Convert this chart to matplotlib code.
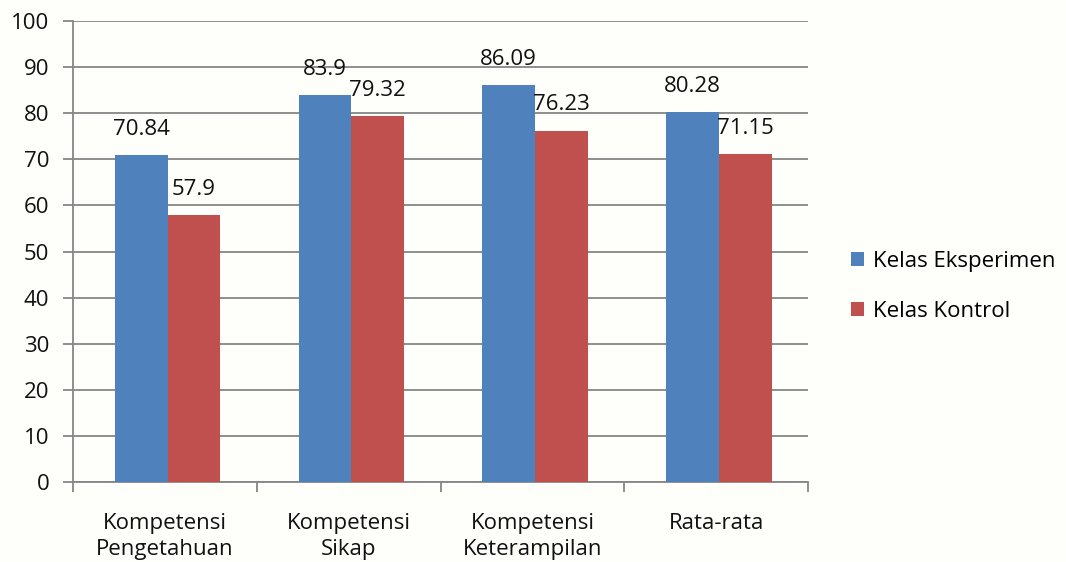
import numpy as np
import matplotlib
matplotlib.use("Agg")
import matplotlib.pyplot as plt

plt.rcParams['font.family'] = ['Open Sans', 'DejaVu Sans']

# data
kategori = ['Kompetensi\nPengetahuan', 'Kompetensi\nSikap', 'Kompetensi\nKeterampilan', 'Rata-rata']
eksperimen = [70.84, 83.9, 86.09, 80.28]
kontrol = [57.9, 79.32, 76.23, 71.15]
label_eks = ['70.84', '83.9', '86.09', '80.28']
label_kon = ['57.9', '79.32', '76.23', '71.15']

biru = '#4F81BD'
merah = '#C0504D'
abu = '#868686'
fs = 16

fig = plt.figure(figsize=(10.66, 5.62), dpi=100)
fig.patch.set_facecolor('#fefefb')
ax = fig.add_axes([0.0685, 0.1423, 0.6895, 0.8203])
ax.set_facecolor('none')

x = np.arange(len(kategori))
w = 0.287
b1 = ax.bar(x - w / 2 + 0.015, eksperimen, w, color=biru, label='Kelas Eksperimen', zorder=3)
b2 = ax.bar(x + w / 2 + 0.015, kontrol, w, color=merah, label='Kelas Kontrol', zorder=3)

for rect, t in zip(b1, label_eks):
    ax.annotate(t, (rect.get_x() + rect.get_width() / 2, rect.get_height()),
                xytext=(0, 11), textcoords='offset points', ha='center', va='bottom',
                fontsize=fs, color='#111111')
for rect, t in zip(b2, label_kon):
    ax.annotate(t, (rect.get_x() + rect.get_width() / 2, rect.get_height()),
                xytext=(0, 11), textcoords='offset points', ha='center', va='bottom',
                fontsize=fs, color='#111111')

ax.set_xlim(-0.5, 3.5)
ax.set_ylim(0, 100)
ax.set_yticks(np.arange(0, 101, 10))
ax.yaxis.grid(True, color=abu, linewidth=1.3, zorder=0)
ax.set_axisbelow(True)

# x ticks at category boundaries, labels at centres
ax.set_xticks(np.arange(-0.5, 3.6, 1))
ax.set_xticklabels([])
ax.set_xticks(x, minor=True)
ax.set_xticklabels(kategori, minor=True, fontsize=fs, color='#111111', linespacing=1.35)
ax.tick_params(axis='x', which='minor', length=0, pad=22)
ax.tick_params(axis='x', which='major', length=7, width=1.3, color=abu)
ax.tick_params(axis='y', length=7, width=1.3, color=abu, labelsize=fs, labelcolor='#111111', pad=10)

for s in ['top', 'right']:
    ax.spines[s].set_visible(False)
for s in ['left', 'bottom']:
    ax.spines[s].set_color(abu)
    ax.spines[s].set_linewidth(1.3)

fig.legend(handles=[b1, b2], loc='center left', bbox_to_anchor=(840 / 1066, 1 - 286.5 / 562),
           frameon=False, fontsize=fs, handlelength=0.6, handleheight=0.6,
           handletextpad=0.4, labelspacing=1.3, borderpad=0)

fig.savefig('out.png', dpi=100, facecolor=fig.get_facecolor())
